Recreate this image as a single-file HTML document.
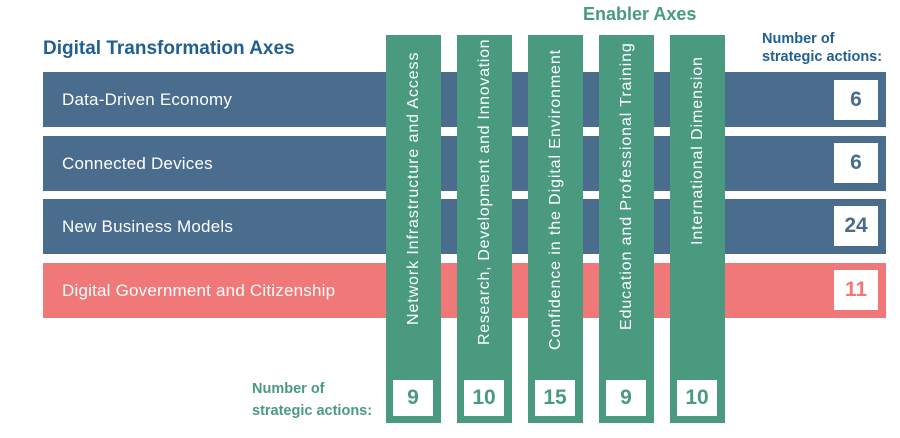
<!DOCTYPE html>
<html><head><meta charset="utf-8"><style>
body{margin:0;width:900px;height:438px;background:#fff;position:relative;overflow:hidden;font-family:"Liberation Sans",sans-serif}
.a{position:absolute}
.row{position:absolute;left:43px;width:843px;height:55px;background:#4a6d8e;color:#fff;font-size:17px;letter-spacing:0.2px;line-height:55px;box-sizing:border-box;padding-left:19px}
.red{background:#f07878}
.nb{position:absolute;left:834px;width:44px;height:40px;background:#fff;font-weight:bold;font-size:21px;text-align:center;line-height:40px;color:#4a6d8e}
.col{position:absolute;top:35px;width:55px;height:388px;background:#4a9a80}
.col span{position:absolute;left:50%;transform-origin:0 0;transform:rotate(-90deg) translateY(-50%);white-space:nowrap;color:#fff;font-size:16px;letter-spacing:0.9px;line-height:20px}
.cb{position:absolute;left:7px;top:345px;width:40px;height:36px;background:#fff;color:#4a9a80;font-weight:bold;font-size:21px;text-align:center;line-height:36px}
</style></head><body>
<div class="a" style="left:43px;top:38px;font-size:19px;font-weight:bold;color:#1f5f94">Digital Transformation Axes</div>
<div class="a" style="left:583px;top:4px;font-size:18px;font-weight:bold;color:#4a9a80">Enabler Axes</div>
<div class="a" style="left:762px;top:30px;font-size:14.5px;font-weight:bold;color:#1f5f94;line-height:18px">Number of<br>strategic actions:</div>
<div class="a" style="left:252px;top:378px;font-size:14.5px;font-weight:bold;color:#4a9a80;line-height:22px">Number of<br>strategic actions:</div>
<div class="row" style="top:72px">Data-Driven Economy</div>
<div class="row" style="top:136px">Connected Devices</div>
<div class="row" style="top:199px">New Business Models</div>
<div class="row red" style="top:263px">Digital Government and Citizenship</div>
<div class="nb" style="top:80px">6</div>
<div class="nb" style="top:143px">6</div>
<div class="nb" style="top:206px">24</div>
<div class="nb" style="top:270px;color:#f07878">11</div>
<div class="col" style="left:386px"><span style="bottom:78px">Network Infrastructure and Access</span><div class="cb">9</div></div>
<div class="col" style="left:457px"><span style="bottom:58px;letter-spacing:0.7px">Research, Development and Innovation</span><div class="cb">10</div></div>
<div class="col" style="left:528px"><span style="bottom:53px">Confidence in the Digital Environment</span><div class="cb">15</div></div>
<div class="col" style="left:599px"><span style="bottom:73px">Education and Professional Training</span><div class="cb">9</div></div>
<div class="col" style="left:670px"><span style="bottom:158px">International Dimension</span><div class="cb">10</div></div>
</body></html>
